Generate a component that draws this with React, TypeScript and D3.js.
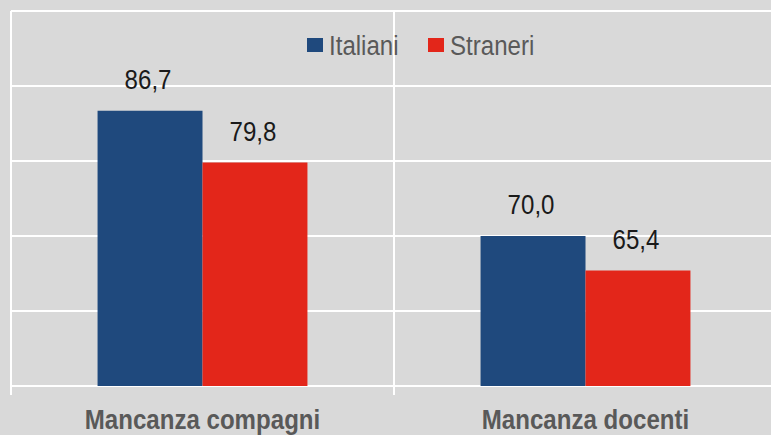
import React from "react";
import * as d3 from "d3";

const categories = ["Mancanza compagni", "Mancanza docenti"];
const seriesNames = ["Italiani", "Stranieri"];
const italiani = [86.7, 70.0];
const stranieri = [79.8, 65.4];
const yTicks = [50, 60, 70, 80, 90, 100];
const colors = ["#1f497d", "#e3261a"];

const W = 771;
const H = 435;
const FONT = "'Liberation Sans', Arial, sans-serif";
const SX = 0.86;

function NText(props: {
  x: number;
  y: number;
  anchor?: "start" | "middle" | "end";
  size: number;
  weight?: string;
  fill: string;
  children: React.ReactNode;
}) {
  return (
    <text
      transform={`translate(${props.x},${props.y}) scale(${SX},1)`}
      textAnchor={props.anchor || "start"}
      fontFamily={FONT}
      fontSize={props.size}
      fontWeight={props.weight || "normal"}
      fill={props.fill}
    >
      {props.children}
    </text>
  );
}

export default function App() {
  const plotLeft = 11;
  const plotRight = 777;
  const plotTop = 11;
  const plotBottom = 386;

  const y = d3.scaleLinear().domain([50, 100]).range([plotBottom, plotTop]);
  const x0 = d3
    .scaleBand<string>()
    .domain(categories)
    .range([plotLeft, plotRight])
    .paddingInner(0.452)
    .paddingOuter(0.226);
  const x1 = d3.scaleBand<string>().domain(seriesNames).range([0, x0.bandwidth()]);
  const step = x0.step();
  const values = [italiani, stranieri];
  const fmt = (v: number) => d3.format(".1f")(v).replace(".", ",");

  const boundaries = categories.map((_, i) => plotLeft + i * step);

  return (
    <svg
      width={W}
      height={H}
      style={{ position: "absolute", left: 0, top: 0, background: "#d9d9d9" }}
    >
      <rect x={0} y={0} width={W} height={H} fill="#d9d9d9" />
      {yTicks.map((t) => (
        <line key={t} x1={plotLeft} x2={W} y1={y(t)} y2={y(t)} stroke="#ffffff" strokeWidth={2} />
      ))}
      {boundaries.map((bx, i) => (
        <line key={i} x1={bx} x2={bx} y1={plotTop} y2={plotBottom + 9} stroke="#ffffff" strokeWidth={2} />
      ))}
      {categories.map((c, ci) =>
        seriesNames.map((s, si) => {
          const v = values[si][ci];
          const bx = (x0(c) as number) + (x1(s) as number);
          return (
            <g key={c + s}>
              <rect
                x={bx}
                y={y(v)}
                width={x1.bandwidth()}
                height={plotBottom - y(v)}
                fill={colors[si]}
              />
              <NText x={bx + x1.bandwidth() / 2 - 2} y={y(v) - 22} anchor="middle" size={28} fill="#1a1a1a">
                {fmt(v)}
              </NText>
            </g>
          );
        })
      )}
      {categories.map((c) => (
        <NText
          key={c}
          x={(x0(c) as number) + x0.bandwidth() / 2}
          y={429}
          anchor="middle"
          size={28}
          weight="bold"
          fill="#595959"
        >
          {c}
        </NText>
      ))}
      <g>
        <rect x={307} y={38} width={16} height={14} fill={colors[0]} />
        <NText x={329} y={55} size={28} fill="#595959">
          Italiani
        </NText>
        <rect x={428} y={38} width={16} height={14} fill={colors[1]} />
        <NText x={450} y={55} size={28} fill="#595959">
          Straneri
        </NText>
      </g>
    </svg>
  );
}
